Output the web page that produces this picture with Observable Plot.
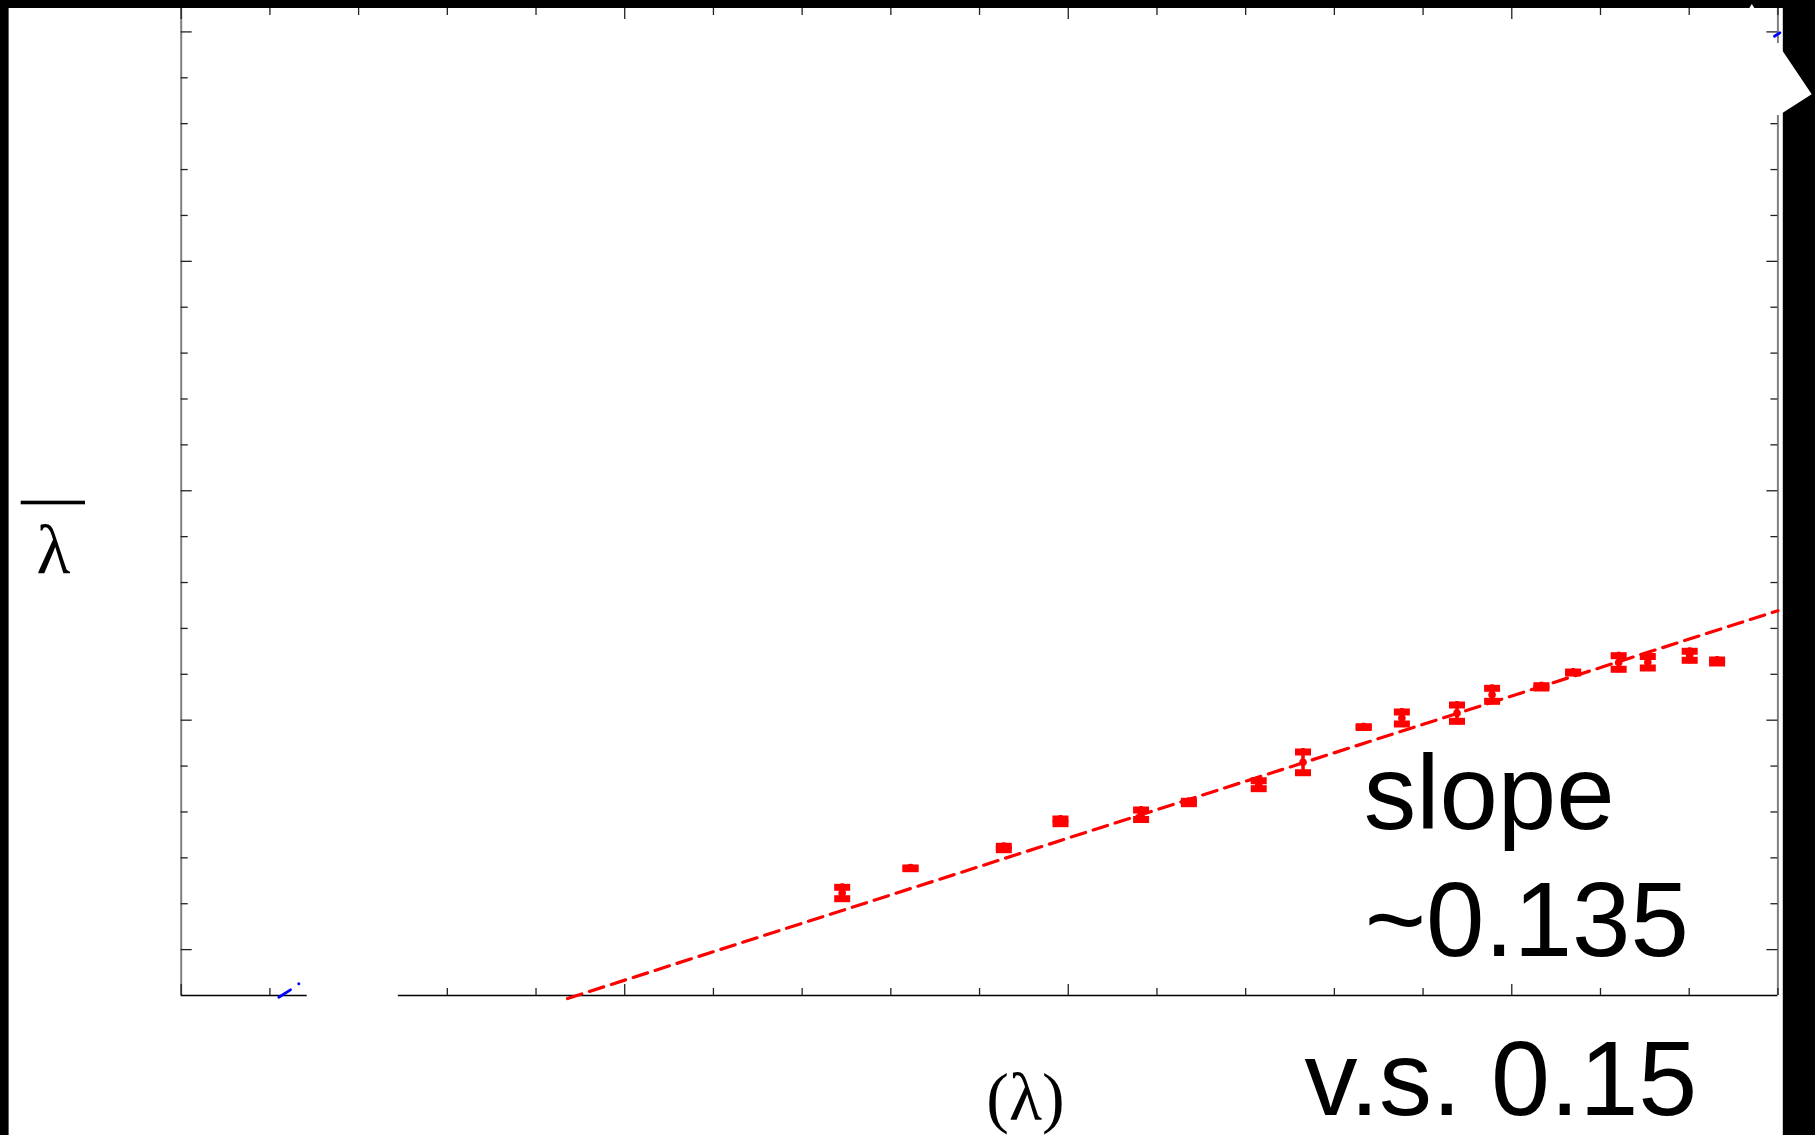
<!DOCTYPE html>
<html><head><meta charset="utf-8">
<script src="https://cdn.jsdelivr.net/npm/d3@7"></script>
<script src="https://cdn.jsdelivr.net/npm/@observablehq/plot@0.6"></script>
<style>
html,body{margin:0;padding:0;background:#fff;}
#wrap{position:relative;width:1815px;height:1135px;overflow:hidden;}
#overlay{position:absolute;left:0;top:0;pointer-events:none;}
</style></head><body><div id="wrap"></div>
<script>
// ---- data ----
const xVals = [1.4903, 1.6443, 1.8547, 1.9825, 2.1642, 2.2720, 2.4294, 2.5293, 2.6661, 2.7522, 2.8765, 2.9556, 3.0668, 3.1383, 3.2410, 3.3067, 3.4011, 3.4629];
const yVals = [0.1234, 0.1790, 0.2215, 0.2796, 0.2939, 0.3207, 0.3594, 0.4081, 0.4849, 0.5048, 0.5153, 0.5553, 0.5727, 0.6039, 0.6258, 0.6263, 0.6404, 0.6279];
const yLo   = [0.1033, 0.1687, 0.2101, 0.2668, 0.2759, 0.3104, 0.3431, 0.3779, 0.4764, 0.4841, 0.4899, 0.5335, 0.5625, 0.5952, 0.6033, 0.6061, 0.6229, 0.6170];
const yHi   = [0.1434, 0.1855, 0.2328, 0.2923, 0.3119, 0.3309, 0.3757, 0.4383, 0.4934, 0.5255, 0.5407, 0.5771, 0.5828, 0.6126, 0.6482, 0.6464, 0.6578, 0.6388];
// fitted line (red dashed), endpoints
const fitX = [0.871, 3.6];
const fitY = [-0.1065, 0.7386];
// visible fragments of the blue dash-dot line
const blueDashA = [[0.2201, -0.1037], [0.2464, -0.0876]];
const blueDot = [[0.2651, -0.0745]];
const blueDashB = [[3.5923, 1.9906], [3.6043, 1.9980]];
// tick values (no tick labels are shown)
const xMajorTicks = [0, 1, 2, 3];
const xMinorTicks = [0.2, 0.4, 0.6, 0.8, 1.2, 1.4, 1.6, 1.8, 2.2, 2.4, 2.6, 2.8, 3.2, 3.4, 3.6];
const yMajorTicks = [0, 0.5, 1, 1.5, 2];
const yMinorTicks = [0.1, 0.2, 0.3, 0.4, 0.6, 0.7, 0.8, 0.9, 1.1, 1.2, 1.3, 1.4, 1.6, 1.7, 1.8, 1.9];
// erased stretches of the frame
const bottomAxisPieces = [[0, 0.2841], [0.4895, 3.6]];
const rightAxisPieces = [[-0.1, 1.8178], [1.9747, 2.051]];
const bottomMissingTicks = [0.4];
const rightMissingTicks = [1.9];
// texts
const annotSlope = "slope";
const annotValue = "~0.135";
const annotVs = "v.s. 0.15";
const xLabel = "(λ)";
const yLabel = "λ";

// ---- build ----
const points = xVals.map((x, i) => ({x, y: yVals[i], lo: yLo[i], hi: yHi[i]}));
const fit = fitX.map((x, i) => ({x, y: fitY[i]}));
const W = 1815, H = 1135;
const mL = 180.7, mR = 37.6, mT = 8, mB = 140;
const fw = W - mL - mR, fh = H - mT - mB;
const RED = "#ff0000", BLUE = "#0000ff", TICK = "#222";

const capTop = {draw(ctx) { ctx.moveTo(-8, 0); ctx.lineTo(8, 0); ctx.lineTo(8, 7); ctx.lineTo(-8, 7); ctx.closePath(); }};
const capBot = {draw(ctx) { ctx.moveTo(-8, 0); ctx.lineTo(8, 0); ctx.lineTo(8, -7); ctx.lineTo(-8, -7); ctx.closePath(); }};

const bottomX = [...xMajorTicks, ...xMinorTicks].filter(v => !bottomMissingTicks.includes(v));
const rightY = [...yMajorTicks, ...yMinorTicks].filter(v => !rightMissingTicks.includes(v));
const isMajX = v => xMajorTicks.includes(v);
const isMajY = v => yMajorTicks.includes(v);
const sans = "Liberation Sans, Arial, sans-serif";
const serif = "Liberation Serif, Times New Roman, serif";

const chart = Plot.plot({
  width: W, height: H,
  marginLeft: mL, marginRight: mR, marginTop: mT, marginBottom: mB,
  x: {domain: [0, 3.6], axis: null},
  y: {domain: [-0.1, 2.051], axis: null},
  style: {background: "white", overflow: "visible"},
  marks: [
    // frame lines
    Plot.ruleX([0], {stroke: "#808080", strokeWidth: 2}),
    Plot.ruleX(rightAxisPieces, {x: () => 3.6, y1: d => d[0], y2: d => d[1], stroke: "#808080", strokeWidth: 2}),
    Plot.ruleY(bottomAxisPieces, {y: () => -0.1, x1: d => d[0], x2: d => d[1], stroke: "#000", strokeWidth: 1.6}),
    // ticks: bottom (inward)
    Plot.tickX(bottomX.filter(isMajX), {x: d => d, insetTop: fh - 11, stroke: TICK, strokeWidth: 1.3}),
    Plot.tickX(bottomX.filter(v => !isMajX(v)), {x: d => d, insetTop: fh - 7, stroke: TICK, strokeWidth: 1.3}),
    // top
    Plot.tickX(xMajorTicks, {x: d => d, insetBottom: fh - 11, stroke: TICK, strokeWidth: 1.3}),
    Plot.tickX(xMinorTicks, {x: d => d, insetBottom: fh - 7, stroke: TICK, strokeWidth: 1.3}),
    // left
    Plot.tickY(yMajorTicks, {y: d => d, insetRight: fw - 11, stroke: TICK, strokeWidth: 1.3}),
    Plot.tickY(yMinorTicks, {y: d => d, insetRight: fw - 7, stroke: TICK, strokeWidth: 1.3}),
    // right
    Plot.tickY(rightY.filter(isMajY), {y: d => d, insetLeft: fw - 11, stroke: TICK, strokeWidth: 1.3}),
    Plot.tickY(rightY.filter(v => !isMajY(v)), {y: d => d, insetLeft: fw - 7, stroke: TICK, strokeWidth: 1.3}),
    // blue dash-dot fragments
    Plot.line(blueDashA, {x: d => d[0], y: d => d[1], stroke: BLUE, strokeWidth: 2.8}),
    Plot.dot(blueDot, {x: d => d[0], y: d => d[1], r: 1.5, fill: BLUE}),
    Plot.line(blueDashB, {x: d => d[0], y: d => d[1], stroke: BLUE, strokeWidth: 2.8}),
    // red fit
    Plot.line(fit, {x: "x", y: "y", stroke: RED, strokeWidth: 3.2, strokeDasharray: "15,8"}),
    // error bars
    Plot.ruleX(points, {x: "x", y1: "lo", y2: "hi", stroke: RED, strokeWidth: 3.5}),
    Plot.dot(points, {x: "x", y: "hi", symbol: capTop, fill: RED, stroke: "none", r: 4}),
    Plot.dot(points, {x: "x", y: "lo", symbol: capBot, fill: RED, stroke: "none", r: 4}),
    Plot.dot(points, {x: "x", y: "y", r: 3.8, fill: RED}),
    // annotations
    Plot.text([annotSlope], {text: d => d, x: 2.666, y: 0.2639, textAnchor: "start", lineAnchor: "bottom", fontSize: 105, fontFamily: sans, fill: "#000"}),
    Plot.text([annotValue], {text: d => d, x: 2.6686, y: -0.015, textAnchor: "start", lineAnchor: "bottom", fontSize: 105, fontFamily: sans, fill: "#000"}),
    Plot.text([annotVs], {text: d => d, x: 2.5327, y: -0.3615, textAnchor: "start", lineAnchor: "bottom", fontSize: 106, fontFamily: sans, fill: "#000"}),
    Plot.text([xLabel], {text: d => d, x: 1.9036, y: -0.3724, textAnchor: "middle", lineAnchor: "bottom", fontSize: 68, fontFamily: serif, fill: "#000"}),
    Plot.text([yLabel], {text: d => d, x: -0.288, y: 0.8203, textAnchor: "middle", lineAnchor: "bottom", fontSize: 70, fontFamily: serif, fill: "#000"})
  ]
});
const wrap = document.getElementById("wrap");
wrap.appendChild(chart);

// decorative border and label bar
const ns = "http://www.w3.org/2000/svg";
const ov = document.createElementNS(ns, "svg");
ov.setAttribute("id", "overlay");
ov.setAttribute("width", W);
ov.setAttribute("height", H);
ov.innerHTML = `
  <rect x="0" y="0" width="8.6" height="${H}" fill="#000"/>
  <rect x="0" y="0" width="${W}" height="8" fill="#000"/>
  <rect x="1782.8" y="0" width="${W - 1782.8}" height="${H}" fill="#000"/>
  <polygon points="1782,50 1811.7,94.3 1782,113.3" fill="#fff"/>
  <polygon points="1749,8.5 1751.8,4 1754.6,8.5" fill="#fff"/>
  <rect x="20.7" y="500.7" width="64.3" height="3.6" fill="#000"/>
`;
wrap.appendChild(ov);
</script>
</body></html>
